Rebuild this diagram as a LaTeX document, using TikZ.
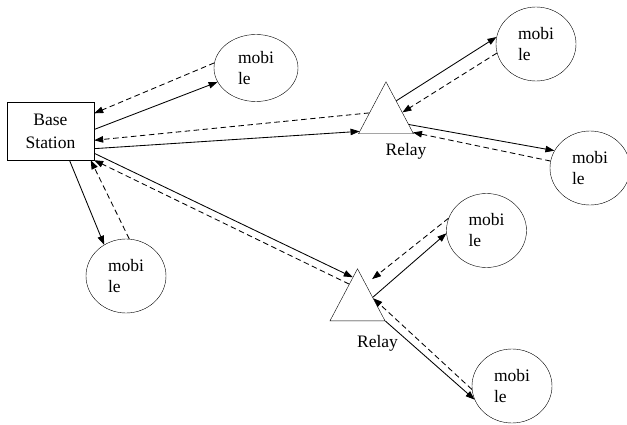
\documentclass[tikz,border=0pt]{standalone}
\usepackage{fontspec}
\setmainfont{Liberation Serif}
\usetikzlibrary{shapes.geometric,arrows.meta,calc}
\begin{document}
\begin{tikzpicture}[
    x=1pt, y=-1pt,
    font=\fontsize{17.5}{21}\selectfont,
    station/.style={rectangle, draw, minimum width=87pt, minimum height=58pt, align=center, inner sep=0pt},
    mobile/.style={ellipse, draw, minimum width=80pt, minimum height=74pt, align=left, inner sep=0pt},
    relay/.style={isosceles triangle, draw, shape border rotate=90, isosceles triangle stretches, minimum width=55pt, minimum height=52pt, inner sep=0pt, anchor=lower side},
    up/.style={draw, line width=0.85pt, -{Triangle[length=9pt,width=6.5pt]}},
    down/.style={up, dash pattern=on 5.5pt off 3.5pt}
]
    \useasboundingbox (0,0) rectangle (627,425);
    \node [station] (base) at (50.5,131) {Base\\[2pt]Station};
    \node [mobile, minimum width=84pt, minimum height=67pt] (m1) at (256,68) {mobi\\le};
    \node [mobile] (m2) at (536,44) {mobi\\le};
    \node [mobile] (m3) at (590,168) {mobi\\le};
    \node [mobile] (m4) at (126,276) {mobi\\le};
    \node [mobile] (m5) at (486.5,230.5) {mobi\\le};
    \node [mobile] (m6) at (512,386) {mobi\\le};
    \node [relay] (r1) at (386,134) {};
    \node [relay] (r2) at (357.5,321) {};
    \node (r1lab) at ([xshift=20pt,yshift=-17pt]r1.lower side) {Relay};
    \node (r2lab) at ([xshift=20pt,yshift=-22pt]r2.lower side) {Relay};

    % base station links
    \draw [up] (base.2) -- (m1.200);
    \draw [down] (m1.173) -- (base.22);
    \draw [up] (base.-22) -- ($(r1.apex)!0.95!(r1.left corner)$);
    \draw [down] ($(r1.apex)!0.6!(r1.left corner)$) -- (base.-12);
    \draw [up] (base.-27) -- ($(r2.apex)!0.17!(r2.left corner)$);
    \draw [down] ($(r2.apex)!0.3!(r2.left corner)$) -- (base.south east);
    \draw [up] (base.-57) -- (m4.125);
    \draw [down] (m4.85) -- (base.-36);

    % relay links
    \draw [up] ($(r1.apex)!0.37!(r1.right corner)$) -- (m2.170);
    \draw [down] (m2.193) -- ($(r1.apex)!0.59!(r1.right corner)$);
    \draw [up] ($(r1.apex)!0.82!(r1.right corner)$) -- (m3.154);
    \draw [down] (m3.170) -- ($(r1.apex)!0.97!(r1.right corner)$);
    \draw [up] ($(r2.apex)!0.55!(r2.right corner)$) -- (m5.184);
    \draw [down, shorten >=8pt] (m5.162) -- ($(r2.apex)!0.3!(r2.right corner)$);
    \draw [up] (r2.right corner) -- (m6.200);
    \draw [down] (m6.185) -- ($(r2.apex)!0.57!(r2.right corner)$);
\end{tikzpicture}
\end{document}
